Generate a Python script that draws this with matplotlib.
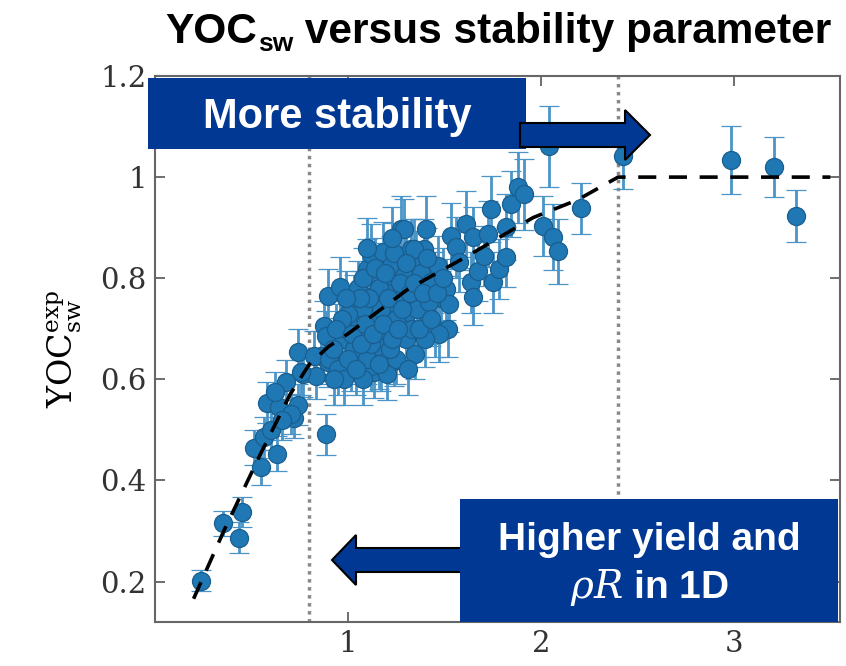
import numpy as np
import matplotlib
matplotlib.use("Agg")
import matplotlib.pyplot as plt
from matplotlib.patches import Rectangle, Polygon
from matplotlib.ticker import FuncFormatter

plt.rcParams["mathtext.fontset"] = "dejavuserif"

# stability parameter / measured YOC with error bars
x_vals = [0.24, 0.35, 0.45, 0.435, 0.55, 0.515, 0.632, 0.565, 0.58, 0.643,
          0.68, 0.72, 0.74, 0.74, 0.767, 0.834, 0.886, 0.60, 0.705, 0.86,
          0.896, 0.62, 0.66, 0.756, 0.824, 0.876, 0.886, 0.896, 0.959, 0.902,
          0.979, 0.99, 1.016, 1.031, 1.052, 1.052, 1.10, 1.119, 1.13, 1.135,
          1.145, 1.155, 1.18, 1.187, 1.207, 1.212, 1.223, 1.238, 1.259, 1.275,
          1.29, 1.30, 1.311, 1.326, 1.352, 1.362, 1.394, 1.404, 1.414, 1.414,
          1.446, 1.466, 1.171, 1.03, 1.12, 0.95, 0.98, 1.08, 1.10, 1.20,
          1.25, 1.05, 1.08, 1.15, 1.20, 1.25, 1.27, 1.33, 1.36, 1.38,
          1.45, 1.48, 1.00, 0.97, 1.06, 1.12, 1.17, 1.22, 1.32, 1.24,
          1.16, 1.08, 1.35, 1.29, 1.342, 1.43, 1.42, 1.508, 1.523, 1.534,
          1.56, 1.575, 1.611, 1.648, 1.637, 1.648, 1.674, 1.705, 1.725, 1.741,
          1.751, 1.782, 1.819, 1.819, 1.845, 1.881, 1.912, 2.01, 2.062, 2.088,
          2.21, 2.04, 2.425, 2.984, 3.207, 3.321, 1.52, 1.47, 0.93, 1.40,
          0.92, 0.94, 1.00, 1.02, 1.04, 1.07, 1.09, 1.11, 1.13, 1.14,
          1.16, 1.18, 1.19, 1.21, 1.23, 1.26, 1.28, 1.30, 1.31, 1.34,
          1.37, 1.39, 1.41, 1.43, 1.46, 1.49, 1.06, 0.99, 1.10, 1.23]
y_vals = [0.202, 0.315, 0.337, 0.287, 0.426, 0.465, 0.453, 0.485, 0.554, 0.546,
          0.594, 0.523, 0.55, 0.655, 0.61, 0.606, 0.491, 0.50, 0.531, 0.646,
          0.634, 0.575, 0.52, 0.614, 0.646, 0.705, 0.685, 0.764, 0.782, 0.64,
          0.679, 0.699, 0.626, 0.752, 0.659, 0.719, 0.818, 0.847, 0.764, 0.614,
          0.713, 0.665, 0.851, 0.784, 0.693, 0.739, 0.824, 0.636, 0.758, 0.897,
          0.804, 0.679, 0.733, 0.857, 0.834, 0.778, 0.857, 0.897, 0.758, 0.725,
          0.792, 0.824, 0.626, 0.66, 0.626, 0.62, 0.60, 0.60, 0.64, 0.61,
          0.64, 0.78, 0.74, 0.80, 0.77, 0.72, 0.79, 0.70, 0.74, 0.81,
          0.70, 0.76, 0.73, 0.72, 0.69, 0.67, 0.74, 0.66, 0.77, 0.85,
          0.78, 0.80, 0.65, 0.897, 0.857, 0.792, 0.752, 0.778, 0.749, 0.883,
          0.861, 0.832, 0.907, 0.881, 0.792, 0.762, 0.814, 0.844, 0.887, 0.937,
          0.792, 0.818, 0.842, 0.901, 0.947, 0.98, 0.966, 0.903, 0.881, 0.853,
          0.938, 1.061, 1.042, 1.034, 1.02, 0.923, 0.70, 0.69, 0.60, 0.68,
          0.66, 0.70, 0.64, 0.69, 0.62, 0.67, 0.71, 0.76, 0.69, 0.82,
          0.63, 0.71, 0.81, 0.76, 0.68, 0.70, 0.74, 0.83, 0.62, 0.79,
          0.70, 0.77, 0.84, 0.72, 0.77, 0.80, 0.76, 0.76, 0.86, 0.88]
y_err = [0.02, 0.025, 0.03, 0.03, 0.035, 0.035, 0.035, 0.04, 0.04, 0.04,
         0.045, 0.04, 0.04, 0.045, 0.045, 0.045, 0.04, 0.04, 0.04, 0.05,
         0.05, 0.04, 0.04, 0.045, 0.05, 0.05, 0.05, 0.055, 0.06, 0.05,
         0.05, 0.055, 0.05, 0.055, 0.05, 0.055, 0.06, 0.06, 0.055, 0.05,
         0.055, 0.05, 0.06, 0.06, 0.055, 0.055, 0.06, 0.05, 0.055, 0.065,
         0.06, 0.05, 0.055, 0.06, 0.06, 0.06, 0.06, 0.065, 0.055, 0.055,
         0.06, 0.06, 0.05, 0.05, 0.05, 0.05, 0.05, 0.05, 0.05, 0.05,
         0.05, 0.055, 0.055, 0.06, 0.055, 0.055, 0.06, 0.055, 0.055, 0.06,
         0.055, 0.055, 0.055, 0.055, 0.05, 0.05, 0.055, 0.05, 0.055, 0.06,
         0.055, 0.06, 0.05, 0.06, 0.06, 0.06, 0.055, 0.06, 0.055, 0.065,
         0.06, 0.06, 0.065, 0.06, 0.06, 0.055, 0.06, 0.06, 0.065, 0.065,
         0.06, 0.06, 0.06, 0.065, 0.065, 0.07, 0.07, 0.06, 0.065, 0.065,
         0.05, 0.08, 0.065, 0.067, 0.06, 0.052, 0.055, 0.055, 0.05, 0.055,
         0.05, 0.05, 0.05, 0.05, 0.05, 0.05, 0.055, 0.055, 0.05, 0.06,
         0.05, 0.055, 0.06, 0.055, 0.05, 0.055, 0.055, 0.06, 0.05, 0.06,
         0.055, 0.055, 0.06, 0.055, 0.055, 0.06, 0.055, 0.055, 0.06, 0.06]

# fitted trend, saturating at 1
fit_x = [0.20, 0.36, 0.55, 0.70, 0.80, 0.90, 1.00, 1.31, 1.62, 1.96, 2.19, 2.40, 3.50]
fit_y = [0.166, 0.303, 0.455, 0.570, 0.630, 0.665, 0.690, 0.778, 0.844, 0.920, 0.955, 1.00, 1.00]

# stability thresholds
thresholds = [0.8, 2.4]

x_ticks = [1, 2, 3]
y_ticks = [0.2, 0.4, 0.6, 0.8, 1.0, 1.2]

W, H = 846, 666
fig = plt.figure(figsize=(W / 100, H / 100), dpi=100)
ax = fig.add_axes([155 / W, 1 - 622 / H, 685 / W, 546 / H])


def px(x, y):
    # pixel position (from top-left) -> figure fraction
    return x / W, 1 - y / H


for t in thresholds:
    ax.axvline(t, color="#8a8a8a", lw=2.5, ls=(0, (1.0, 1.3)), zorder=1)

ax.errorbar(x_vals, y_vals, yerr=y_err, fmt="o", ms=13, mfc="#1f77b4",
            mec="#1a5e8e", mew=0.9, ecolor="#4a94c8", elinewidth=2.0,
            capsize=7, capthick=2.0, zorder=3)

ax.plot(fit_x, fit_y, color="black", lw=2.6, ls=(0, (5, 3.5)), zorder=4)

ax.set_xlim(0, 3.55)
ax.set_ylim(0.12, 1.2)
ax.set_xticks(x_ticks)
ax.set_yticks(y_ticks)
ax.yaxis.set_major_formatter(FuncFormatter(lambda v, p: "%g" % v))
ax.tick_params(direction="in", length=7, width=1.2, colors="#555555",
               labelcolor="#333333", labelsize=21, pad=6,
               top=True, right=True)
for lab in ax.get_xticklabels() + ax.get_yticklabels():
    lab.set_family("DejaVu Serif")
for s in ax.spines.values():
    s.set_color("#666666")
    s.set_linewidth(1.5)

ax.set_ylabel(r"$\mathrm{YOC}_{\mathrm{sw}}^{\mathrm{exp}}$", fontsize=24,
              labelpad=12, color="black")

# title, with a hand-placed subscript
tfont = "Liberation Sans"
renderer = fig.canvas.get_renderer()
t1 = fig.text(*px(165, 43), "YOC", fontsize=30.5, weight="bold", family=tfont,
              va="baseline")
bb = t1.get_window_extent(renderer)
t2 = fig.text(bb.x1 / W + 1 / W, 1 - 51 / H, "sw", fontsize=19, weight="bold",
              family=tfont, va="baseline")
bb2 = t2.get_window_extent(renderer)
fig.text(bb2.x1 / W, 1 - 43 / H, " versus stability parameter", fontsize=30.5,
         weight="bold", family=tfont, va="baseline")

box_blue = "#003893"

# upper box + right arrow
fig.patches.append(Rectangle(px(148, 149), 378 / W, 71 / H, facecolor=box_blue,
                             edgecolor="none", transform=fig.transFigure,
                             zorder=10))
fig.text(*px(337, 117), "More stability", fontsize=30, weight="bold",
         family=tfont, color="white", ha="center", va="center", zorder=12)
right_arrow = [(520, 123), (625, 123), (625, 110), (650, 135), (625, 160),
               (625, 147), (520, 147)]
fig.patches.append(Polygon([px(*p) for p in right_arrow], closed=True,
                           facecolor=box_blue, edgecolor="black", lw=1.5,
                           transform=fig.transFigure, zorder=11))

# lower box + left arrow
left_arrow = [(462, 548), (356, 548), (356, 535), (332, 560), (356, 585),
              (356, 572), (462, 572)]
fig.patches.append(Polygon([px(*p) for p in left_arrow], closed=True,
                           facecolor=box_blue, edgecolor="black", lw=1.5,
                           transform=fig.transFigure, zorder=10))
fig.patches.append(Rectangle(px(460, 622), 378 / W, 123 / H, facecolor=box_blue,
                             edgecolor="none", transform=fig.transFigure,
                             zorder=11))
fig.text(*px(649, 550), "Higher yield and", fontsize=28, weight="bold",
         family=tfont, color="white", ha="center", va="baseline", zorder=12)
fig.text(*px(649, 598), r"$\rho R$ in 1D", fontsize=28, weight="bold",
         family=tfont, color="white", ha="center", va="baseline", zorder=12)

fig.savefig("out.png", dpi=100)
